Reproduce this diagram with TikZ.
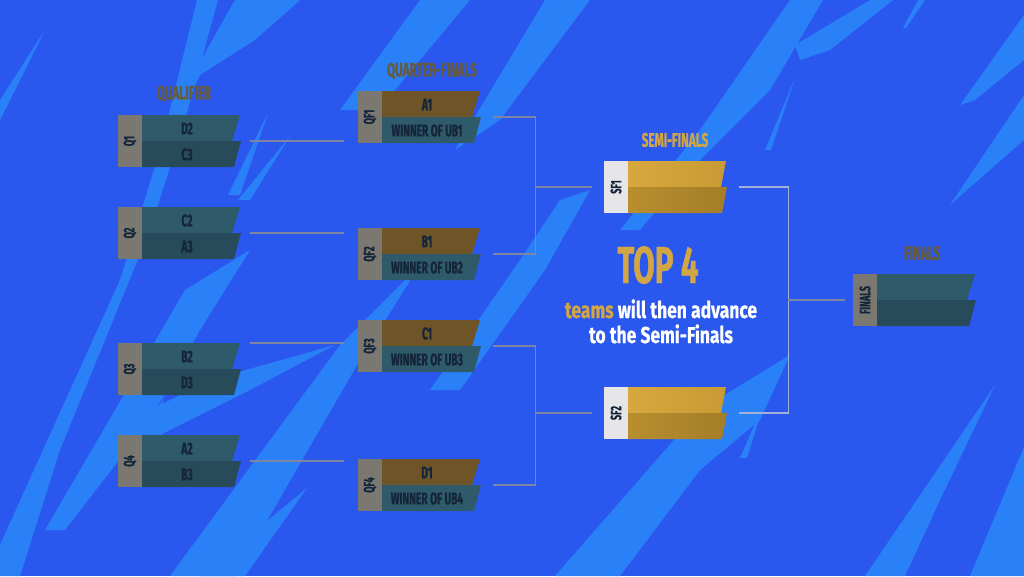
\documentclass[tikz,border=0pt]{standalone}
\usepackage{fontspec}
\newfontfamily\cf{Fira Sans}[FakeStretch=0.6, FakeBold=0.8, Ligatures=NoCommon]
\newfontfamily\cfw{Fira Sans}[FakeStretch=0.76, FakeBold=0.6, Ligatures=NoCommon]
\usetikzlibrary{calc}
\definecolor{bg}{HTML}{2A58EE}
\definecolor{streak}{HTML}{2A80F6}
\definecolor{qlab}{HTML}{7B7872}
\definecolor{tealA}{HTML}{2F5A6A}
\definecolor{tealB}{HTML}{274B5B}
\definecolor{brownA}{HTML}{6E5426}
\definecolor{goldA}{HTML}{D6A83E}
\definecolor{goldA2}{HTML}{C89A34}
\definecolor{goldB}{HTML}{B88E2F}
\definecolor{goldB2}{HTML}{A47D27}
\definecolor{sflab}{HTML}{E6E6E8}
\definecolor{ink}{HTML}{14253A}
\definecolor{ttl}{HTML}{665A3A}
\definecolor{gold}{HTML}{D3A645}
\definecolor{qline}{HTML}{7D85A2}
\definecolor{sline}{HTML}{A3B0DA}
\tikzset{
  strk/.style={fill=streak},
  team/.style={text=ink, font=\cf\bfseries\fontsize{17}{17}\selectfont, inner sep=0pt},
  labtxt/.style={text=ink, font=\cf\bfseries\fontsize{15}{15}\selectfont, inner sep=0pt, rotate=90},
  ttlst/.style={font=\cf\bfseries\fontsize{19.5}{19.5}\selectfont, inner sep=0pt},
  matchbox/.style={minimum width=122pt, minimum height=52pt, inner sep=0pt, anchor=north west},
  qconn/.style={draw=qline, line width=1.5pt},
  sconn/.style={draw=sline, line width=1.5pt}
}
% #1 name, #2 x, #3 y, #4 label, #5 top text, #6 bottom text, #7 label colour, #8 top colour, #9 bottom colour
\newcommand\matchblock[9]{%
  \node[matchbox] (#1) at (#2,#3) {};
  \fill[#7] (#2,#3) rectangle ++(24,52);
  \fill[#8] (#2+24,#3) -- (#2+122,#3) -- (#2+114,#3+26) -- (#2+24,#3+26) -- cycle;
  \fill[#9] (#2+24,#3+26) -- (#2+123,#3+26) -- (#2+116,#3+52) -- (#2+24,#3+52) -- cycle;
  \node[labtxt] (#1-lab) at (#2+12,#3+26) {#4};
  \node[team] (#1-a) at (#2+69,#3+13.5) {#5};
  \node[team] (#1-b) at (#2+69,#3+39.5) {#6};
}
\newcommand\goldblock[4]{%
  \node[matchbox] (#1) at (#2,#3) {};
  \fill[sflab] (#2,#3) rectangle ++(24,52);
  \shade[left color=goldA, right color=goldA2] (#2+24,#3) -- (#2+122,#3) -- (#2+117,#3+26) -- (#2+24,#3+26) -- cycle;
  \shade[left color=goldB, right color=goldB2] (#2+24,#3+26) -- (#2+123,#3+26) -- (#2+118,#3+52) -- (#2+24,#3+52) -- cycle;
  \node[labtxt] (#1-lab) at (#2+12,#3+26) {#4};
}
\begin{document}
\begin{tikzpicture}[x=1pt,y=-1pt]
\fill[bg] (0,0) rectangle (1024,576);
\useasboundingbox (0,0) rectangle (1024,576);
% background streaks
\fill[strk] (0,100) -- (45,30) -- (10,100) -- (0,120) -- cycle;
\fill[strk] (0,545) -- (120,280) -- (160,150) -- (197,0) -- (218,0) -- (185,120) -- (150,230) -- (60,450) -- (20,576) -- (0,576) -- cycle;
\fill[strk] (150,150) -- (235,0) -- (300,0) -- (255,40) -- (200,75) -- (165,150) -- cycle;
\fill[strk] (45,530) -- (185,290) -- (250,250) -- (200,330) -- (150,420) -- (65,530) -- cycle;
\fill[strk] (110,430) -- (210,380) -- (335,345) -- (250,390) -- (130,450) -- cycle;
\fill[strk] (170,576) -- (340,345) -- (420,265) -- (360,360) -- (235,576) -- cycle;
\fill[strk] (200,576) -- (307,488) -- (245,576) -- cycle;
\fill[strk] (228,195) -- (268,113) -- (240,195) -- cycle;
\fill[strk] (238,200) -- (290,136) -- (250,200) -- cycle;
\fill[strk] (150,425) -- (165,395) -- (156,425) -- cycle;
\fill[strk] (430,390) -- (520,260) -- (560,200) -- (590,190) -- (545,270) -- (460,390) -- cycle;
\fill[strk] (340,110) -- (420,0) -- (470,0) -- (395,90) -- (365,110) -- cycle;
\fill[strk] (455,150) -- (545,0) -- (590,0) -- (500,120) -- cycle;
\fill[strk] (620,230) -- (700,130) -- (790,0) -- (823,0) -- (770,90) -- (690,170) -- (640,230) -- cycle;
\fill[strk] (795,45) -- (870,0) -- (893,0) -- (830,50) -- (800,60) -- cycle;
\fill[strk] (765,150) -- (795,78) -- (771,150) -- cycle;
\fill[strk] (903,28) -- (918,0) -- (925,0) -- (906,28) -- cycle;
\fill[strk] (960,105) -- (1024,15) -- (1024,60) -- (975,100) -- cycle;
\fill[strk] (950,205) -- (1024,95) -- (1024,140) -- cycle;
\fill[strk] (555,576) -- (700,410) -- (790,355) -- (760,420) -- (700,470) -- (620,576) -- cycle;
\fill[strk] (740,458) -- (765,400) -- (747,458) -- cycle;
\fill[strk] (865,576) -- (995,385) -- (940,500) -- (905,576) -- cycle;
\fill[strk] (970,576) -- (1024,447) -- (1024,576) -- cycle;

% titles
\node[ttlst, text=ttl] (tq) at (184,94) {QUALIFIER};
\node[ttlst, text=ttl] (tqf) at (432,71) {QUARTER-FINALS};
\node[ttlst, text=gold] (tsf) at (675,140) {SEMI-FINALS};
\node[ttlst, text=ttl] (tf) at (922,253) {FINALS};

% matches
\matchblock{q1}{118}{115}{Q1}{D2}{C3}{qlab}{tealA}{tealB}
\matchblock{q2}{118}{207}{Q2}{C2}{A3}{qlab}{tealA}{tealB}
\matchblock{q3}{118}{343}{Q3}{B2}{D3}{qlab}{tealA}{tealB}
\matchblock{q4}{118}{435}{Q4}{A2}{B3}{qlab}{tealA}{tealB}
\matchblock{qf1}{358}{91}{QF1}{A1}{WINNER OF UB1}{qlab}{brownA}{tealA}
\matchblock{qf2}{358}{228}{QF2}{B1}{WINNER OF UB2}{qlab}{brownA}{tealA}
\matchblock{qf3}{358}{320}{QF3}{C1}{WINNER OF UB3}{qlab}{brownA}{tealA}
\matchblock{qf4}{358}{459}{QF4}{D1}{WINNER OF UB4}{qlab}{brownA}{tealA}
\goldblock{sf1}{604}{161}{SF1}
\goldblock{sf2}{604}{387}{SF2}
\matchblock{fin}{853}{274}{FINALS}{}{}{qlab}{tealA}{tealB}

% connectors
\draw[qconn] ([xshift=10pt]q1.east) -- ([xshift=-14pt]q1.east -| qf1.west);
\draw[qconn] ([xshift=10pt]q2.east) -- ([xshift=-14pt]q2.east -| qf2.west);
\draw[qconn] ([xshift=10pt]q3.north east) -- ([xshift=-14pt]q3.north east -| qf3.west);
\draw[qconn] ([xshift=10pt]q4.east) -- ([xshift=-14pt]q4.east -| qf4.west);

\coordinate (j1) at ([xshift=55pt]qf1.east |- sf1.west);
\coordinate (j2) at ([xshift=55pt]qf3.east |- sf2.west);
\draw[qconn] ([xshift=13pt]qf1.east) -- ([xshift=55pt]qf1.east) |- ([xshift=13pt]qf2.east);
\draw[qconn] (j1) -- ([xshift=-12pt]sf1.west);
\draw[qconn] ([xshift=13pt]qf3.east) -- ([xshift=55pt]qf3.east) |- ([xshift=13pt]qf4.east);
\draw[qconn] (j2) -- ([xshift=-12pt]sf2.west);

\coordinate (j3) at ([xshift=62pt]sf1.east |- fin.west);
\draw[sconn] ([xshift=13pt]sf1.east) -- ([xshift=62pt]sf1.east) |- ([xshift=13pt]sf2.east);
\draw[qconn] (j3) -- ([xshift=-8pt]fin.west);

% centre text
\node[text=gold, font=\cf\bfseries\fontsize{52}{52}\selectfont, inner sep=0pt] (top4) at (658,265) {TOP 4};
\node[text=white, font=\cfw\bfseries\fontsize{23}{23}\selectfont, inner sep=0pt, anchor=base] (l1) at (661,318) {\textcolor{gold}{teams} will then advance};
\node[text=white, font=\cfw\bfseries\fontsize{23}{23}\selectfont, inner sep=0pt, anchor=base] (l2) at (661,343) {to the Semi-Finals};
\end{tikzpicture}
\end{document}
